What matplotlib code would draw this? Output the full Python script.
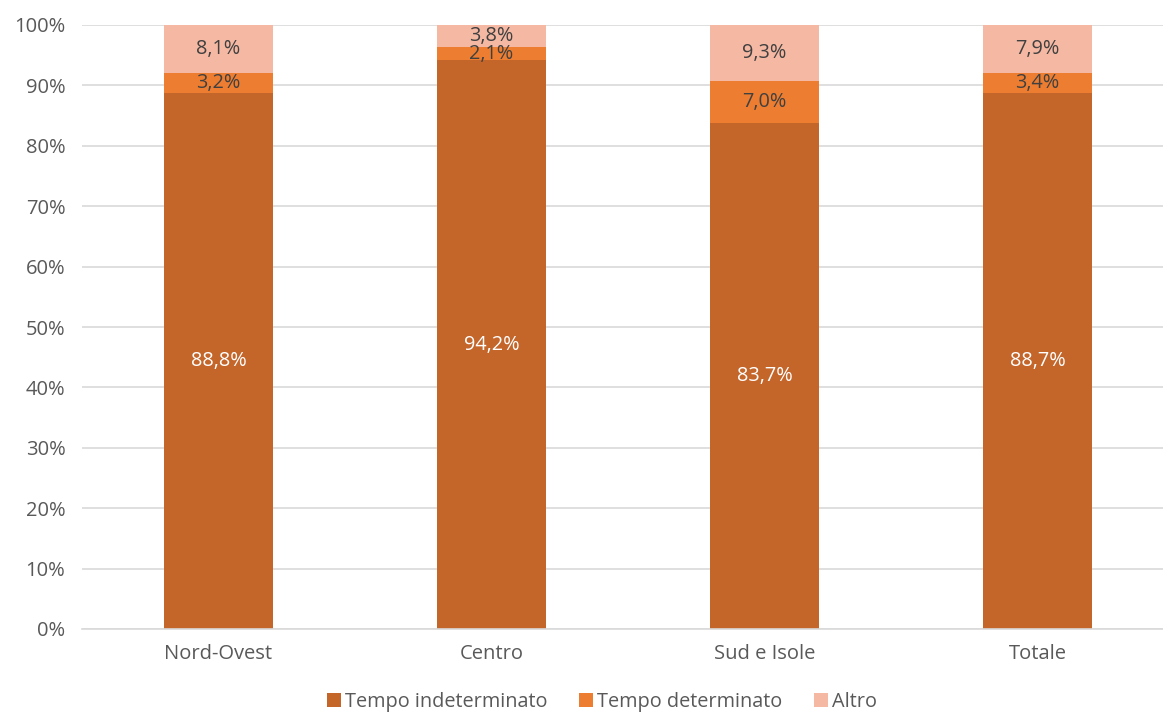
import matplotlib.pyplot as plt
from matplotlib.ticker import PercentFormatter

plt.rcParams['font.family'] = ['Open Sans', 'DejaVu Sans']

regioni = ['Nord-Ovest', 'Centro', 'Sud e Isole', 'Totale']
serie = ['Tempo indeterminato', 'Tempo determinato', 'Altro']
indeterminato = [88.8, 94.2, 83.7, 88.7]
determinato = [3.2, 2.1, 7.0, 3.4]
altro = [8.1, 3.8, 9.3, 7.9]

colori = ['#C4652A', '#ED7D31', '#F4B8A3']
colori_testo = ['white', '#404040', '#404040']

fig = plt.figure(figsize=(11.63, 7.15), dpi=100)
ax = fig.add_axes([82 / 1163, 1 - 629 / 715, 1092 / 1163, 604 / 715])

x = range(len(regioni))
base = [0.0] * len(regioni)
for nome, valori, col, tcol in zip(serie, [indeterminato, determinato, altro], colori, colori_testo):
    ax.bar(x, valori, width=0.4, bottom=base, color=col, label=nome, zorder=2)
    for xi, b, v in zip(x, base, valori):
        ax.text(xi, b + v / 2, f'{v:.1f}%'.replace('.', ','), ha='center', va='center',
                color=tcol, fontsize=14.3, zorder=3)
    base = [b + v for b, v in zip(base, valori)]

ax.set_xlim(-0.5, len(regioni) - 0.5)
ax.set_ylim(0, 100)
ax.set_yticks(range(0, 101, 10))
ax.yaxis.set_major_formatter(PercentFormatter(decimals=0))
ax.set_xticks(list(x))
ax.set_xticklabels(regioni)
ax.grid(axis='y', color='#D9D9D9', linewidth=1.2, zorder=0)
ax.tick_params(axis='both', length=0, labelsize=14.5, labelcolor='#595959')
ax.tick_params(axis='x', pad=11)
ax.tick_params(axis='y', pad=12)
for lato in ['top', 'right', 'left']:
    ax.spines[lato].set_visible(False)
ax.spines['bottom'].set_color('#D9D9D9')
ax.spines['bottom'].set_linewidth(1.2)

leg = fig.legend(loc='center', bbox_to_anchor=(602 / 1163, 1 - 702 / 715), ncol=3, frameon=False,
                 fontsize=14.3, handlelength=0.7, handleheight=0.7, handletextpad=0.2,
                 columnspacing=1.6, borderpad=0.1)
for t in leg.get_texts():
    t.set_color('#595959')

fig.savefig('out.png', dpi=100)
